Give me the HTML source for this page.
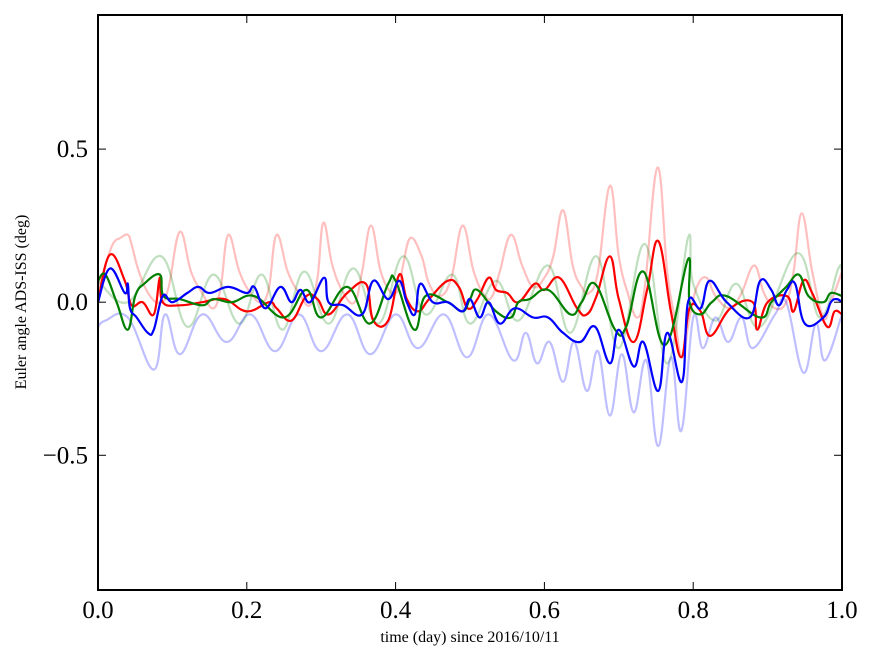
<!DOCTYPE html>
<html><head><meta charset="utf-8"><style>
body{margin:0;background:#fff;}
svg{display:block;font-family:"Liberation Serif",serif;}
</style></head><body>
<svg id="chart" width="875" height="662" viewBox="0 0 875 662" xmlns="http://www.w3.org/2000/svg">
<rect x="0" y="0" width="875" height="662" fill="#fff"/>
<g id="series"></g>
<g id="axes"></g>
</svg>
<script>
const xTicks=[0.0,0.2,0.4,0.6,0.8,1.0];
const xTickLabels=["0.0","0.2","0.4","0.6","0.8","1.0"];
const yTicks=[0.5,0.0,-0.5];
const yTickLabels=["0.5","0.0","\u22120.5"];

const lightRedX=[0,0.01,0.02,0.03,0.04,0.045,0.055,0.07,0.085,0.095,0.11,0.125,0.14,0.155,0.165,0.175,0.19,0.205,0.22,0.23,0.24,0.255,0.27,0.285,0.295,0.303,0.315,0.33,0.345,0.355,0.367,0.38,0.395,0.405,0.41,0.42,0.435,0.445,0.46,0.475,0.49,0.505,0.52,0.53,0.54,0.555,0.57,0.585,0.6,0.612,0.625,0.638,0.65,0.66,0.672,0.688,0.7,0.712,0.725,0.735,0.752,0.765,0.775,0.785,0.795,0.805,0.818,0.83,0.85,0.865,0.882,0.895,0.91,0.925,0.935,0.946,0.96,0.975,0.985,1.0];
const lightRedY=[0.04,0.12,0.19,0.21,0.22,0.19,0.10,0.02,0.0,0.05,0.23,0.10,0.03,-0.02,0.05,0.22,0.10,0.03,0.0,0.05,0.22,0.10,0.03,-0.01,0.08,0.26,0.12,0.03,0.0,0.10,0.25,0.10,0.03,0.05,0.12,0.21,0.15,0.06,0.02,0.08,0.25,0.10,0.02,0.02,0.10,0.22,0.12,0.05,0.08,0.15,0.30,0.12,0.05,0.03,0.10,0.38,0.15,0.03,-0.05,0.05,0.44,0.10,-0.05,-0.18,-0.05,0.05,0.08,0.02,-0.02,0.03,0.12,0.03,-0.02,0.0,0.10,0.29,0.10,-0.05,0.0,0.10];

const lightGreenX=[0,0.04,0.085,0.12,0.155,0.19,0.22,0.248,0.277,0.31,0.343,0.377,0.41,0.44,0.476,0.5,0.535,0.565,0.605,0.635,0.67,0.70,0.735,0.765,0.793,0.80,0.83,0.858,0.89,0.94,0.97,0.995,1.0];
const lightGreenY=[0.07,0.0,0.15,-0.08,0.09,-0.07,0.09,-0.09,0.10,-0.07,0.11,-0.07,0.15,-0.04,0.09,-0.07,0.07,-0.06,0.12,-0.10,0.15,-0.15,0.19,-0.20,0.21,0.06,-0.06,0.06,-0.08,0.16,-0.05,0.11,0.10];

const lightBlueX=[0,0.01,0.04,0.075,0.09,0.11,0.14,0.173,0.205,0.238,0.27,0.30,0.335,0.366,0.4,0.43,0.465,0.496,0.525,0.558,0.575,0.59,0.607,0.625,0.64,0.657,0.672,0.688,0.704,0.72,0.737,0.753,0.77,0.784,0.8,0.813,0.83,0.847,0.865,0.88,0.91,0.925,0.948,0.965,0.977,1.0];
const lightBlueY=[-0.08,-0.06,-0.05,-0.22,-0.04,-0.17,-0.04,-0.13,-0.04,-0.16,-0.04,-0.16,-0.04,-0.17,-0.04,-0.15,-0.04,-0.18,-0.04,-0.19,-0.10,-0.20,-0.13,-0.26,-0.13,-0.29,-0.16,-0.37,-0.17,-0.36,-0.19,-0.47,-0.18,-0.42,-0.05,-0.15,-0.05,-0.13,-0.05,-0.15,-0.04,0.0,-0.23,-0.07,-0.19,-0.04];

const redX=[0,0.016,0.036,0.045,0.06,0.075,0.083,0.087,0.11,0.14,0.17,0.2,0.23,0.24,0.26,0.28,0.295,0.31,0.335,0.36,0.37,0.39,0.405,0.415,0.43,0.445,0.47,0.485,0.497,0.51,0.525,0.535,0.55,0.565,0.587,0.6,0.62,0.644,0.657,0.67,0.688,0.70,0.72,0.738,0.753,0.77,0.784,0.795,0.81,0.823,0.85,0.88,0.886,0.9,0.926,0.935,0.948,0.96,0.98,0.99,1.0];
const redY=[0.0,0.155,0.07,-0.01,0.0,-0.04,0.08,0.0,-0.01,0.0,0.01,-0.03,0.0,-0.02,-0.06,0.02,0.01,-0.04,0.03,0.06,-0.06,-0.06,0.09,0.01,-0.03,0.01,0.07,0.05,-0.02,0.01,0.08,0.04,0.03,0.0,0.06,0.04,0.08,-0.02,-0.04,0.02,0.15,0.01,-0.13,0.04,0.20,-0.03,-0.18,-0.02,-0.03,-0.11,-0.02,0.0,-0.09,0.0,0.02,-0.03,0.07,0.03,-0.08,-0.03,-0.04];

const greenX=[0,0.01,0.025,0.04,0.05,0.062,0.083,0.088,0.11,0.14,0.155,0.18,0.21,0.25,0.28,0.30,0.335,0.365,0.39,0.40,0.425,0.44,0.47,0.49,0.5,0.51,0.535,0.555,0.565,0.58,0.605,0.635,0.65,0.668,0.695,0.71,0.733,0.762,0.793,0.795,0.81,0.825,0.845,0.89,0.905,0.925,0.942,0.955,0.975,0.985,1.0];
const greenY=[0.07,0.09,0.0,-0.09,0.02,0.06,0.09,0.02,0.01,-0.01,0.01,0.0,0.02,-0.05,0.04,-0.05,0.05,-0.07,0.06,0.07,-0.09,0.02,0.0,-0.03,0.01,0.04,-0.03,-0.05,0.0,0.01,0.04,-0.04,0.0,0.06,-0.09,-0.08,0.10,-0.14,0.14,0.0,-0.04,0.0,0.02,-0.05,0.0,0.05,0.09,0.02,0.0,0.03,0.02];

const blueX=[0,0.016,0.036,0.04,0.043,0.052,0.067,0.075,0.087,0.1,0.12,0.135,0.15,0.175,0.2,0.21,0.225,0.245,0.26,0.272,0.285,0.304,0.31,0.33,0.355,0.37,0.39,0.405,0.415,0.426,0.433,0.45,0.47,0.49,0.5,0.513,0.525,0.54,0.56,0.585,0.605,0.625,0.648,0.668,0.688,0.70,0.72,0.733,0.753,0.765,0.785,0.793,0.81,0.822,0.845,0.876,0.89,0.905,0.915,0.926,0.937,0.95,0.975,0.985,0.993,1.0];
const blueY=[0.0,0.11,0.03,0.06,-0.02,-0.05,-0.10,-0.09,0.02,0.0,0.03,0.05,0.03,0.05,0.03,0.05,-0.02,0.05,0.0,0.04,0.0,0.08,0.0,-0.01,-0.04,0.07,0.01,0.07,0.0,-0.04,0.06,0.0,0.0,-0.03,0.01,-0.05,0.0,-0.07,-0.02,-0.05,-0.05,-0.10,-0.13,-0.08,-0.20,-0.09,-0.21,-0.13,-0.29,-0.10,-0.26,0.0,-0.02,0.07,0.0,-0.05,0.07,0.04,-0.01,0.04,0.06,-0.07,-0.05,0.0,0.01,0.0];

const L=98,R=842,T=15,B=590;
const yMin=-0.94,yMax=0.938;
function xs(v){return L+(v-0)/(1-0)*(R-L);}
function ys(v){return B-(v-yMin)/(yMax-yMin)*(B-T);}
const NS="http://www.w3.org/2000/svg";
const sg=document.getElementById('series');
const ag=document.getElementById('axes');
const clip=document.createElementNS(NS,'clipPath');clip.setAttribute('id','pc');
const cr=document.createElementNS(NS,'rect');cr.setAttribute('x',L);cr.setAttribute('y',T);cr.setAttribute('width',R-L);cr.setAttribute('height',B-T);
clip.appendChild(cr);document.getElementById('chart').appendChild(clip);
sg.setAttribute('clip-path','url(#pc)');
function line(xa,ya,color,op,name,w){
  const p=document.createElementNS(NS,'path');
  const P=xa.map((v,i)=>[xs(v),ys(ya[i])]);
  let d='M'+P[0][0].toFixed(1)+','+P[0][1].toFixed(1);
  for(let i=0;i<P.length-1;i++){
    const p0=P[Math.max(0,i-1)],p1=P[i],p2=P[i+1],p3=P[Math.min(P.length-1,i+2)];
    const k=0.2;
    const c1=[p1[0]+(p2[0]-p0[0])*k,p1[1]+(p2[1]-p0[1])*k];
    const c2=[p2[0]-(p3[0]-p1[0])*k,p2[1]-(p3[1]-p1[1])*k];
    d+='C'+c1[0].toFixed(1)+','+c1[1].toFixed(1)+' '+c2[0].toFixed(1)+','+c2[1].toFixed(1)+' '+p2[0].toFixed(1)+','+p2[1].toFixed(1);
  }
  p.setAttribute('d',d);p.setAttribute('fill','none');p.setAttribute('stroke',color);
  p.setAttribute('stroke-opacity',op);p.setAttribute('stroke-width',w);p.setAttribute('stroke-linejoin','round');
  
  
  sg.appendChild(p);
}
line(lightRedX,lightRedY,'#ff0000',0.25,'light-red-series',2.2);
line(lightGreenX,lightGreenY,'#008000',0.25,'light-green-series',2.2);
line(lightBlueX,lightBlueY,'#0000ff',0.25,'light-blue-series',2.2);
line(redX,redY,'#ff0000',1,'red-series',2.2);
line(greenX,greenY,'#008000',1,'green-series',2.2);
line(blueX,blueY,'#0000ff',1,'blue-series',2.2);
function el(tag,attrs,txt){const e=document.createElementNS(NS,tag);for(const k in attrs)e.setAttribute(k,attrs[k]);if(txt!==undefined)e.textContent=txt;ag.appendChild(e);return e;}
const frame=el('rect',{x:L,y:T,width:R-L,height:B-T,fill:'none',stroke:'#000','stroke-width':2});


xTicks.forEach((v,i)=>{
  const x=xs(v);
  const t1=el('line',{x1:x,y1:B,x2:x,y2:B-8,stroke:'#000','stroke-width':1});
  
  
  const t2=el('line',{x1:x,y1:T,x2:x,y2:T+8,stroke:'#000','stroke-width':1});
  
  
  const lb=el('text',{x:x,y:B+28,'text-anchor':'middle','font-size':25},xTickLabels[i]);
  
  
});
yTicks.forEach((v,i)=>{
  const y=ys(v);
  const t1=el('line',{x1:L,y1:y,x2:L+8,y2:y,stroke:'#000','stroke-width':1});
  
  
  const t2=el('line',{x1:R,y1:y,x2:R-8,y2:y,stroke:'#000','stroke-width':1});
  
  
  const lb=el('text',{x:L-10,y:y+8,'text-anchor':'end','font-size':25},yTickLabels[i]);
  
  
});
const xl=el('text',{x:470,y:642,'text-anchor':'middle','font-size':16},'time (day) since 2016/10/11');


const yl=el('text',{x:0,y:0,'text-anchor':'middle','font-size':16,transform:'translate(26,302) rotate(-90)'},'Euler angle ADS-ISS (deg)');


</script>
</body></html>
